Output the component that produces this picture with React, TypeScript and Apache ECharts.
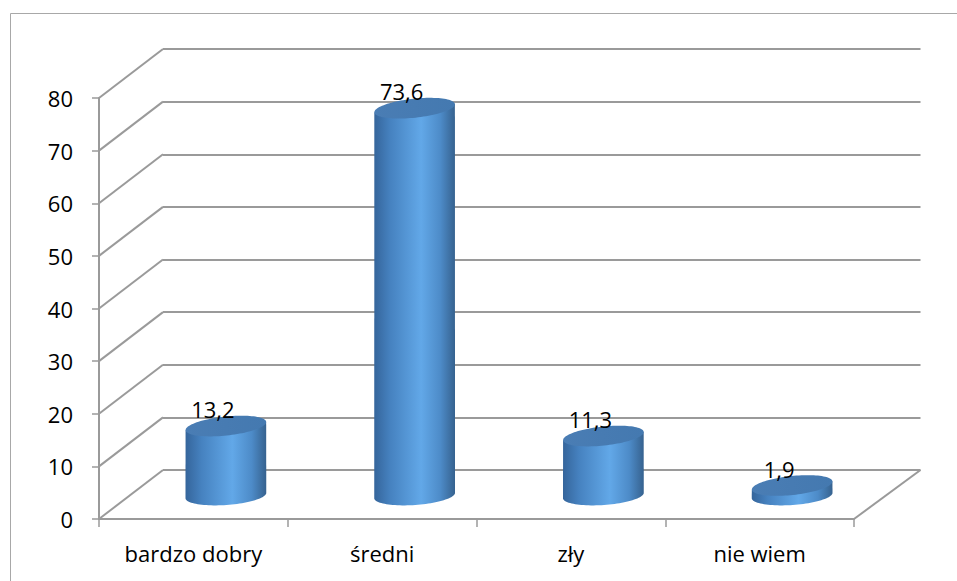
import React, { useEffect, useRef } from "react";
import * as echarts from "echarts";

const categories = ["bardzo dobry", "średni", "zły", "nie wiem"];
const values = [13.2, 73.6, 11.3, 1.9];
const yTicks = [0, 10, 20, 30, 40, 50, 60, 70, 80];

const FONT = '"Open Sans", "Noto Sans", sans-serif';
const GRID_COLOR = "#9a9a9a";
const DEPTH_X = 64;
const DEPTH_Y = -49;
const MID_X = 32.5;
const MID_Y = -23.5;

// point on a rotated ellipse (phi in degrees, screen coords, negative = right side higher)
function ellPoint(cx: number, cy: number, rx: number, ry: number, phiDeg: number, t: number) {
  const p = (phiDeg * Math.PI) / 180;
  const c = Math.cos(p);
  const s = Math.sin(p);
  const ct = Math.cos(t);
  const st = Math.sin(t);
  return [cx + rx * ct * c - ry * st * s, cy + rx * ct * s + ry * st * c];
}

export default function App() {
  const ref = useRef<HTMLDivElement>(null);
  useEffect(() => {
    if (!ref.current) return;
    const chart = echarts.init(ref.current, null, { renderer: "svg" });
    const sideGrad = new echarts.graphic.LinearGradient(0, 0, 1, 0, [
      { offset: 0, color: "#35659b" },
      { offset: 0.2, color: "#4682c0" },
      { offset: 0.58, color: "#62a8e8" },
      { offset: 0.82, color: "#4d8bc8" },
      { offset: 1, color: "#36628f" },
    ]);
    const topGrad = new echarts.graphic.LinearGradient(0, 0, 1, 0, [
      { offset: 0, color: "#4a7db4" },
      { offset: 1, color: "#4479b0" },
    ]);
    const option: any = {
      animation: false,
      backgroundColor: "#fff",
      graphic: [
        {
          type: "rect",
          z: -10,
          shape: { x: 10.5, y: 13.5, width: 960, height: 600 },
          style: { fill: "transparent", stroke: "#a8a8a8", lineWidth: 1 },
        },
      ],
      grid: [
        { left: 99, right: 103, top: 98, bottom: 62, containLabel: false },
        { left: 163, right: 36.5, top: 49, bottom: 111, containLabel: false },
      ],
      xAxis: [
        {
          type: "category",
          gridIndex: 0,
          data: categories,
          boundaryGap: true,
          axisLine: { show: true, lineStyle: { color: GRID_COLOR, width: 2 } },
          axisTick: { show: true, length: 8, interval: 0, lineStyle: { color: GRID_COLOR, width: 1.5 } },
          axisLabel: { margin: 23, fontSize: 22, fontFamily: FONT, color: "#000", interval: 0 },
          splitLine: { show: false },
        },
        {
          type: "category",
          gridIndex: 1,
          data: categories,
          show: false,
        },
      ],
      yAxis: [
        {
          type: "value",
          gridIndex: 0,
          min: 0,
          max: 80,
          interval: 10,
          axisLine: { show: true, lineStyle: { color: GRID_COLOR, width: 2 } },
          axisTick: { show: true, length: 7, lineStyle: { color: GRID_COLOR, width: 1.5 } },
          axisLabel: { margin: 26, fontSize: 22, fontFamily: FONT, color: "#000" },
          splitLine: { show: false },
        },
        {
          type: "value",
          gridIndex: 1,
          min: 0,
          max: 80,
          interval: 10,
          axisLine: { show: false },
          axisTick: { show: false },
          axisLabel: { show: false },
          splitLine: { show: true, lineStyle: { color: GRID_COLOR, width: 2 } },
        },
      ],
      series: [
        {
          type: "custom",
          xAxisIndex: 0,
          yAxisIndex: 0,
          z: 1,
          silent: true,
          data: yTicks.map((v) => [0, v]),
          renderItem: (params: any, api: any) => {
            const v = api.value(1);
            const cs = params.coordSys;
            const y = api.coord([0, v])[1];
            const x0 = cs.x;
            const children: any[] = [
              {
                type: "line",
                shape: { x1: x0, y1: y, x2: x0 + DEPTH_X, y2: y + DEPTH_Y },
                style: { stroke: GRID_COLOR, lineWidth: 2 },
              },
            ];
            if (v === 0) {
              const x1 = cs.x + cs.width;
              children.push({
                type: "line",
                shape: { x1: x1, y1: y, x2: x1 + DEPTH_X + 2.5, y2: y + DEPTH_Y },
                style: { stroke: GRID_COLOR, lineWidth: 2 },
              });
            }
            return { type: "group", children };
          },
        },
        {
          type: "custom",
          xAxisIndex: 0,
          yAxisIndex: 0,
          z: 5,
          data: values.map((v, i) => [i, v]),
          renderItem: (params: any, api: any) => {
            const i = api.value(0);
            const v = api.value(1);
            const base = api.coord([i, 0]);
            const top = api.coord([i, v]);
            const cx = base[0] + MID_X;
            const by = base[1] + MID_Y;
            const ty = top[1] + MID_Y;
            const rx = 40.5;
            const ry = 9.5;
            const phiT = -6;
            const phiB = -4;
            const N = 48;
            const sidePts: number[][] = [];
            sidePts.push(ellPoint(cx, ty, rx, ry, phiT, Math.PI));
            for (let k = 0; k <= N; k++) {
              const t = Math.PI - (Math.PI * k) / N;
              sidePts.push(ellPoint(cx, by, rx, ry, phiB, t));
            }
            sidePts.push(ellPoint(cx, ty, rx, ry, phiT, 0));
            const topPts: number[][] = [];
            for (let k = 0; k < 2 * N; k++) {
              const t = (Math.PI * k) / N;
              topPts.push(ellPoint(cx, ty, rx, ry, phiT, t));
            }
            const label = v.toFixed(1).replace(".", ",");
            return {
              type: "group",
              children: [
                { type: "polygon", shape: { points: sidePts }, style: { fill: sideGrad } },
                { type: "polygon", shape: { points: topPts }, style: { fill: topGrad } },
                {
                  type: "text",
                  style: {
                    text: label,
                    x: cx - 13,
                    y: ty - 17,
                    align: "center",
                    verticalAlign: "middle",
                    font: `22px ${FONT}`,
                    fill: "#000",
                  },
                },
              ],
            };
          },
        },
      ],
    };
    chart.setOption(option);
    return () => chart.dispose();
  }, []);
  return (
    <div
      ref={ref}
      style={{ position: "fixed", left: 0, top: 0, width: 957, height: 581, background: "#fff" }}
    />
  );
}
